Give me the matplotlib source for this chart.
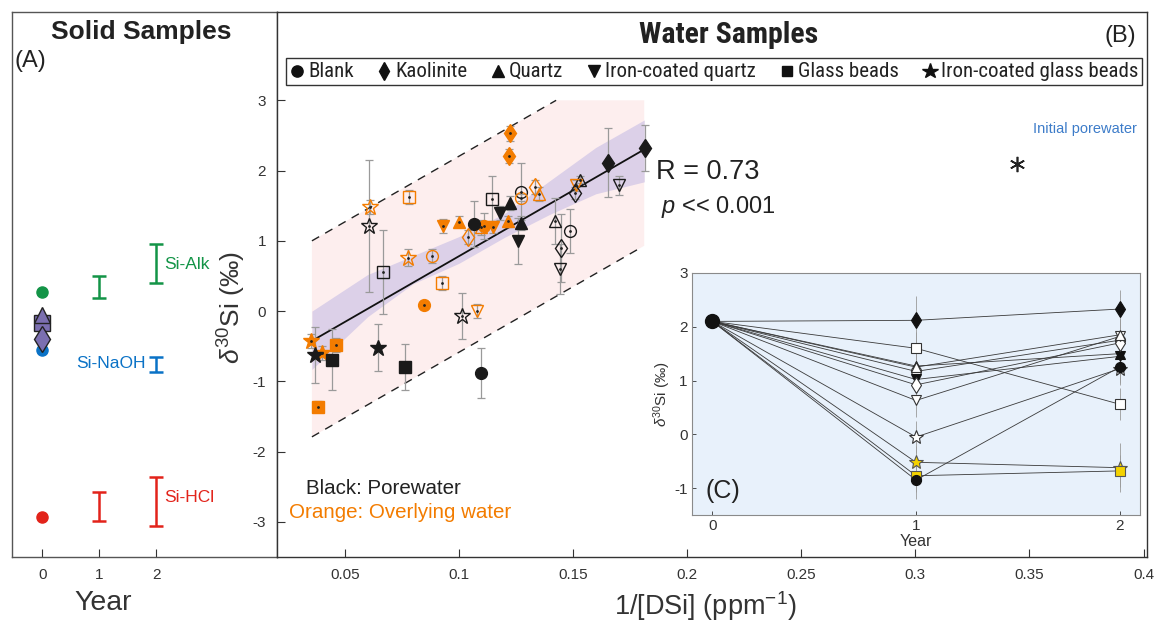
import numpy as np
import matplotlib
matplotlib.use('Agg')
import matplotlib.pyplot as plt
from matplotlib.lines import Line2D
from matplotlib.patches import Rectangle, Polygon
from matplotlib import font_manager

plt.rcParams['font.family'] = ['Liberation Sans', 'DejaVu Sans']
plt.rcParams['mathtext.fontset'] = 'custom'
plt.rcParams['mathtext.rm'] = 'Liberation Sans'
plt.rcParams['mathtext.it'] = 'Liberation Sans:italic'

_names = {f.name for f in font_manager.fontManager.ttflist}
NARROW = None
for cand in ['Liberation Sans Narrow', 'Roboto Condensed', 'Open Sans Condensed', 'DejaVu Sans Condensed']:
    if cand in _names:
        NARROW = cand
        break

W, H = 1159, 623

# ---------------- Panel A data (solid samples) ----------------
a_dot_year = [0, 0, 0]
a_dot_val = [0.27, -0.56, -2.93]
a_dot_names = ['Si-Alk', 'Si-NaOH', 'Si-HCl']
a_min_val = [-0.17, -0.05, -0.40]          # square, triangle, diamond (year 0)
a_bar_year = [1, 2, 2, 1, 2]
a_bar_lo = [0.19, 0.40, -0.87, -2.99, -3.06]
a_bar_hi = [0.50, 0.96, -0.66, -2.57, -2.36]
a_bar_frac = ['Si-Alk', 'Si-Alk', 'Si-NaOH', 'Si-HCl', 'Si-HCl']

# ---------------- Panel B data (water samples) ----------------
b_x = [0.1222, 0.1219, 0.1817, 0.1655, 0.1700, 0.1532, 0.1513, 0.1509, 0.1335, 0.1350,
       0.1270, 0.1270, 0.1144, 0.1178, 0.1222, 0.1270, 0.1260, 0.1216, 0.1149, 0.1095,
       0.1110, 0.1066, 0.0999, 0.0930, 0.1039, 0.0884, 0.0777, 0.0781, 0.0609, 0.0606,
       0.0668, 0.0926, 0.0847, 0.1015, 0.1080, 0.0350, 0.0398, 0.0369, 0.0442, 0.0461,
       0.0646, 0.0765, 0.1095, 0.0384, 0.1423, 0.1445, 0.1448, 0.1489]
b_y = [2.53, 2.21, 2.32, 2.11, 1.79, 1.87, 1.79, 1.68, 1.76, 1.67,
       1.70, 1.61, 1.60, 1.40, 1.54, 1.26, 1.00, 1.28, 1.19, 1.19,
       1.21, 1.24, 1.27, 1.21, 1.05, 0.78, 0.76, 1.62, 1.48, 1.21,
       0.56, 0.40, 0.09, -0.07, 0.00, -0.43, -0.60, -0.62, -0.69, -0.48,
       -0.52, -0.80, -0.88, -1.36, 1.28, 0.60, 0.90, 1.14]
b_err = [0.11, 0.10, 0.33, 0.49, 0.14, 0.05, 0.08, 0.08, 0.10, 0.10,
         0.41, 0.05, 0.32, 0.10, 0.10, 0.10, 0.33, 0.08, 0.08, 0.10,
         0.18, 0.33, 0.08, 0.10, 0.10, 0.10, 0.12, 0.10, 0.10, 0.94,
         0.60, 0.10, 0.05, 0.33, 0.10, 0.10, 0.10, 0.40, 0.44, 0.10,
         0.33, 0.33, 0.36, 0.08, 0.33, 0.35, 0.48, 0.32]
b_mineral = ['K', 'K', 'K', 'K', 'IQ', 'Q', 'IQ', 'K', 'K', 'Q',
             'B', 'B', 'G', 'IQ', 'Q', 'Q', 'IQ', 'Q', 'IQ', 'Q',
             'B', 'B', 'Q', 'IQ', 'K', 'B', 'IG', 'G', 'IG', 'IG',
             'G', 'G', 'B', 'IG', 'IQ', 'IG', 'IG', 'IG', 'G', 'G',
             'IG', 'G', 'B', 'G', 'Q', 'IQ', 'K', 'B']
b_water = ['O', 'O', 'P', 'P', 'P', 'P', 'O', 'P', 'O', 'O',
           'P', 'O', 'P', 'P', 'P', 'P', 'P', 'O', 'O', 'O',
           'O', 'P', 'O', 'O', 'O', 'O', 'O', 'O', 'O', 'P',
           'P', 'O', 'O', 'P', 'O', 'O', 'O', 'P', 'P', 'O',
           'P', 'P', 'P', 'O', 'P', 'P', 'P', 'P']
b_filled = [1, 1, 1, 1, 0, 0, 0, 0, 0, 0,
            0, 0, 0, 1, 1, 1, 1, 1, 1, 0,
            1, 1, 1, 1, 0, 0, 0, 0, 0, 0,
            0, 0, 1, 0, 0, 1, 1, 1, 1, 1,
            1, 1, 1, 1, 0, 0, 0, 0]

reg_x = [0.0369, 0.1817]
reg_y = [-0.40, 2.31]
pred_up_x = [0.0356, 0.1426]
pred_up_y = [1.00, 3.00]
pred_lo_x = [0.0356, 0.1790]
pred_lo_y = [-1.79, 0.89]
pink_x = [0.0356, 0.1426, 0.1812, 0.1812, 0.0356]
pink_y = [1.00, 3.00, 3.00, 0.93, -1.79]
ci_x = [0.0356, 0.060, 0.080, 0.100, 0.120, 0.140, 0.160, 0.1812]
ci_lo = [-0.83, -0.08, 0.39, 0.68, 1.05, 1.38, 1.67, 1.84]
ci_hi = [0.00, 0.52, 0.79, 1.06, 1.39, 1.86, 2.33, 2.72]

init_x, init_y = 0.3444, 2.10
legend_labels = ['Blank', 'Kaolinite', 'Quartz', 'Iron-coated quartz', 'Glass beads',
                 'Iron-coated glass beads']

# ---------------- Panel C data (time series) ----------------
c_years = [0, 1, 2]
c_initial = 2.10
c_y1 = [2.12, 1.60, 1.27, 1.17, 1.02, 0.92, 0.63, 1.25, -0.05, -0.52, -0.77, -0.85]
c_y2 = [2.33, 0.56, 1.50, 1.75, 1.45, 1.70, 1.82, 1.85, 1.22, -0.62, -0.68, 1.25]
c_e1 = [0.45, 0.30, 0.30, 0.30, 0.30, 0.30, 0.30, 0.30, 0.30, 0.30, 0.30, 0.35]
c_e2 = [0.35, 0.30, 0.30, 0.30, 0.30, 0.30, 0.30, 0.30, 0.30, 0.45, 0.30, 0.30]
c_mineral = ['K', 'G', 'Q', 'B', 'IQ', 'K', 'IQ', 'Q', 'IG', 'IG', 'G', 'B']
c_style = ['filled', 'open', 'filled', 'open', 'filled', 'open', 'open', 'open', 'open',
           'yellow', 'yellow', 'filled']

# ---------------- styles ----------------
ORANGE = '#f37c00'
GREEN = '#139447'
BLUE = '#0a72c6'
RED = '#e2231a'
PURPLE = '#7b6fb0'
mk = {'B': 'o', 'K': 'd', 'Q': '^', 'IQ': 'v', 'G': 's', 'IG': '*'}
ms = {'B': 8.5, 'K': 9.5, 'Q': 9, 'IQ': 9, 'G': 8, 'IG': 12}


def fx(px):
    return px / W


def fy(py):
    return 1 - py / H


fig = plt.figure(figsize=(W / 100, H / 100), dpi=100)

YLIM = (-3.5, 3 + 88 / 70)

# ================= Panel A =================
axA = fig.add_axes([fx(12), fy(557), (277 - 12) / W, (557 - 12) / H])
axA.set_xlim(-0.53, 4.12)
axA.set_ylim(*YLIM)
axA.set_yticks([])
axA.set_xticks([0, 1, 2])
axA.tick_params(axis='x', direction='in', length=6, width=0.8, labelsize=11,
                colors='#333333', pad=8)
for s in axA.spines.values():
    s.set_color('#555555')
    s.set_linewidth(1.0)

dot_cols = [GREEN, BLUE, RED]
for yr, v, c in zip(a_dot_year, a_dot_val, dot_cols):
    axA.plot(yr, v, 'o', color=c, ms=8, mec=c, zorder=3)
for m, v in zip(['s', '^', 'd'], a_min_val):
    axA.plot(0, v, m, ms=12 if m != 'd' else 13, mfc=PURPLE, mec='#222222', mew=1.0, zorder=3)
frac_col = {'Si-Alk': GREEN, 'Si-NaOH': BLUE, 'Si-HCl': RED}
for yr, lo, hi, f in zip(a_bar_year, a_bar_lo, a_bar_hi, a_bar_frac):
    axA.errorbar(yr, (lo + hi) / 2, yerr=(hi - lo) / 2, fmt='none', ecolor=frac_col[f],
                 elinewidth=1.8, capsize=5, capthick=1.8)
axA.text(2.14, 0.66, 'Si-Alk', color=GREEN, fontsize=12.5, va='center', ha='left')
axA.text(1.82, -0.74, 'Si-NaOH', color=BLUE, fontsize=12.5, va='center', ha='right')
axA.text(2.14, -2.66, 'Si-HCl', color=RED, fontsize=12.5, va='center', ha='left')

fig.text(fx(141), fy(32), 'Solid Samples', fontsize=19, fontweight='bold', ha='center',
         va='center', color='#222222')
fig.text(fx(15), fy(61), '(A)', fontsize=17, ha='left', va='center', color='#222222')
fig.text(fx(103), fy(603), 'Year', fontsize=20.5, ha='center', va='center', color='#333333')

# ================= Panel B =================
axB = fig.add_axes([fx(277), fy(557), (1147 - 277) / W, (557 - 12) / H])
axB.set_xlim(0.0203, 0.4015)
axB.set_ylim(*YLIM)
axB.set_xticks([0.05, 0.1, 0.15, 0.2, 0.25, 0.3, 0.35, 0.4])
axB.set_xticklabels(['0.05', '0.1', '0.15', '0.2', '0.25', '0.3', '0.35', '0.4'])
axB.set_yticks([-3, -2, -1, 0, 1, 2, 3])
axB.set_yticklabels(['-3', '-2', '-1', '0', '1', '2', '3'])
axB.tick_params(direction='in', length=6, width=0.8, labelsize=11, colors='#333333', pad=8)
for s in axB.spines.values():
    s.set_color('#333333')
    s.set_linewidth(1.0)

axB.add_patch(Polygon(np.column_stack([pink_x, pink_y]), closed=True, facecolor='#fdeeee',
                      edgecolor='none', zorder=0))
axB.fill_between(ci_x, ci_lo, ci_hi, color='#dcd0e8', lw=0, zorder=1)
axB.plot(pred_up_x, pred_up_y, '--', color='#222222', lw=1.0, dashes=(6, 5), zorder=2)
axB.plot(pred_lo_x, pred_lo_y, '--', color='#222222', lw=1.0, dashes=(6, 5), zorder=2)
axB.plot(reg_x, reg_y, '-', color='#111111', lw=1.3, zorder=2)

for x, y, e, m, w, f in zip(b_x, b_y, b_err, b_mineral, b_water, b_filled):
    col = '#1a1a1a' if w == 'P' else ORANGE
    eb = axB.errorbar(x, y, yerr=e, fmt='none', ecolor='#9a9a9a', elinewidth=0.9,
                      capsize=3, capthick=0.9, zorder=3)
    for cap in eb[1]:
        cap.set_color('#555555')
    axB.plot(x, y, mk[m], ms=ms[m], mfc=col if f else 'none', mec=col, mew=1.0, zorder=4)
    if not (f and w == 'P'):
        axB.plot(x, y, '.', ms=2, color='#222222', zorder=5)

axB.plot(init_x, init_y, marker=(6, 2, 0), ms=11, color='#222222', mew=1.2, ls='none')
axB.text(0.3743, 2.59, 'Initial porewater', color='#3d7cc9', fontsize=10.5, ha='center',
         va='center')
fig.text(fx(656), fy(172), 'R = 0.73', fontsize=19.5, ha='left', va='center', color='#222222')
fig.text(fx(661), fy(207), r'$p$ << 0.001', fontsize=17, ha='left', va='center',
         color='#222222')
fig.text(fx(306), fy(489), 'Black: Porewater', fontsize=14.8, ha='left', va='center',
         color='#222222')
fig.text(fx(289), fy(512), 'Orange: Overlying water', fontsize=14.8, ha='left', va='center',
         color=ORANGE)

if NARROW:
    fig.text(fx(729), fy(35), 'Water Samples', fontsize=21.5, fontweight='bold', ha='center',
             va='center', color='#222222', family=[NARROW, 'Liberation Sans'])
else:
    fig.text(fx(729), fy(35), 'Water Samples', fontsize=18, fontweight='bold', ha='center',
             va='center', color='#222222')
fig.text(fx(1136), fy(36), '(B)', fontsize=17, ha='right', va='center', color='#222222')

# legend box
box_l, box_r = 286, 1142
fig.add_artist(Rectangle((fx(box_l), fy(85)), (box_r - box_l) / W, 27 / H,
                         transform=fig.transFigure, fill=False, edgecolor='#333333', lw=1.0))
leg_fs = 15 if NARROW else 13
leg_fam = [NARROW, 'Liberation Sans'] if NARROW else ['Liberation Sans']
leg_texts = [fig.text(0, fy(71.5), lab, fontsize=leg_fs, ha='left', va='center',
                      color='#222222', family=leg_fam) for lab in legend_labels]
fig.canvas.draw()
rend = fig.canvas.get_renderer()
widths = [t.get_window_extent(rend).width for t in leg_texts]
mw, mg = 12, 5
inner_l, inner_r = box_l + 5, box_r - 4
gap = (inner_r - inner_l - sum(mw + mg + w for w in widths)) / (len(widths) - 1)
xcur = inner_l
for t, w, code in zip(leg_texts, widths, ['B', 'K', 'Q', 'IQ', 'G', 'IG']):
    fig.add_artist(Line2D([fx(xcur + mw / 2)], [fy(71)], transform=fig.transFigure,
                          marker=mk[code], ms=ms[code] * 0.95, color='#111111', ls='none'))
    t.set_x(fx(xcur + mw + mg))
    xcur += mw + mg + w + gap

fig.text(fx(232), fy(308), r'$\delta^{30}$Si (‰)', fontsize=19, rotation=90, ha='center',
         va='center', color='#333333')
fig.text(fx(705), fy(606), r'1/[DSi] (ppm$^{-1}$)', fontsize=19.5, ha='center', va='center',
         color='#333333')

# ================= Panel C =================
axC = fig.add_axes([fx(692), fy(515), (1140 - 692) / W, (515 - 273) / H])
axC.set_facecolor('#e8f1fb')
axC.set_xlim(-0.1, 2.1)
axC.set_ylim(-1.5, 3)
axC.set_xticks([0, 1, 2])
axC.set_yticks([-1, 0, 1, 2, 3])
axC.set_yticklabels(['-1', '0', '1', '2', '3'])
axC.tick_params(direction='in', length=3, width=0.6, labelsize=11, colors='#333333', pad=3)
for s in axC.spines.values():
    s.set_color('#8a8a8a')
    s.set_linewidth(0.8)

for y1, y2, e1, e2, m, st in zip(c_y1, c_y2, c_e1, c_e2, c_mineral, c_style):
    axC.plot(c_years, [c_initial, y1, y2], '-', color='#3a3a3a', lw=0.6, zorder=2)
for y1, y2, e1, e2, m, st in zip(c_y1, c_y2, c_e1, c_e2, c_mineral, c_style):
    axC.errorbar(c_years[1:], [y1, y2], yerr=[e1, e2], fmt='none', ecolor='#9a9a9a',
                 elinewidth=0.6, capsize=0, zorder=1.5)
for y1, y2, e1, e2, m, st in zip(c_y1, c_y2, c_e1, c_e2, c_mineral, c_style):
    if st == 'filled':
        fc, ec = '#111111', '#111111'
    elif st == 'open':
        fc, ec = 'white', '#333333'
    else:
        fc, ec = '#f4d200', '#555555'
    axC.plot(c_years[1:], [y1, y2], mk[m], ms=ms[m] * 0.85, mfc=fc, mec=ec, mew=0.8,
             ls='none', zorder=3)
axC.plot(c_years[0], c_initial, 'o', ms=10, color='#111111', zorder=4)
axC.set_ylabel(r'$\delta^{30}$Si (‰)', fontsize=11, color='#333333', labelpad=1)
axC.text(0.03, 0.1, '(C)', transform=axC.transAxes, fontsize=18, color='#222222',
         ha='left', va='center')
fig.text(fx(916), fy(542), 'Year', fontsize=11.5, ha='center', va='center', color='#333333')

fig.savefig('out.png', dpi=100)
